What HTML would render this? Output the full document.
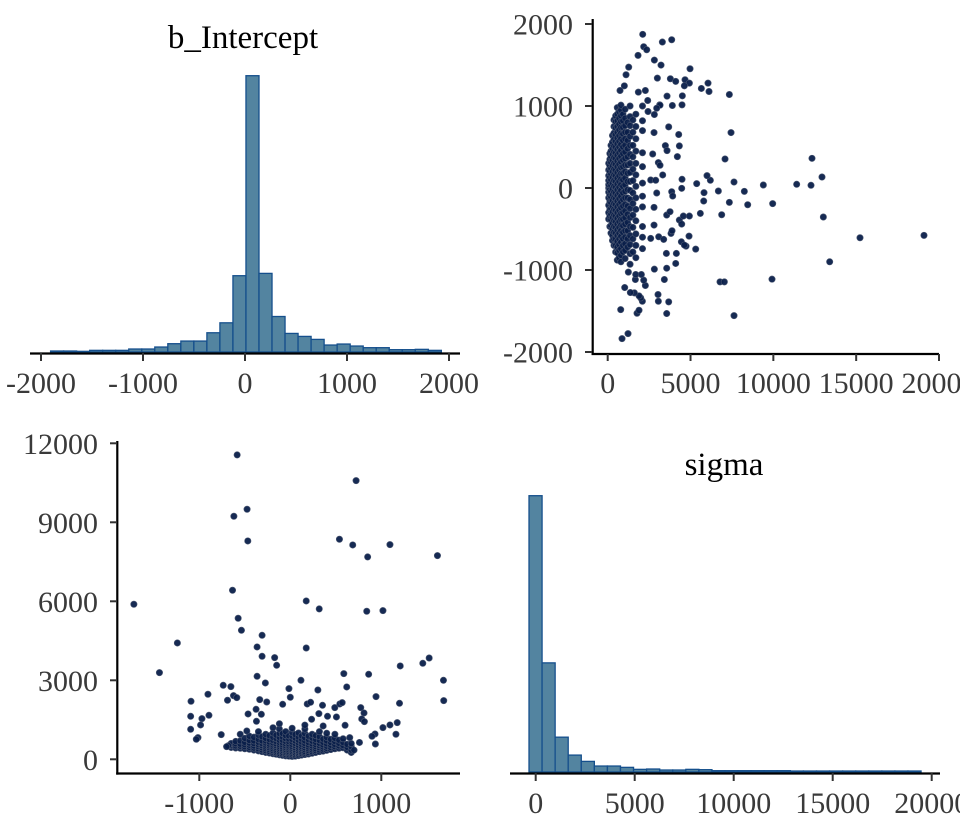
<!DOCTYPE html>
<html>
<head>
<meta charset="utf-8">
<style>
  html,body{margin:0;padding:0;background:#fff;}
  svg{display:block;}
  .tick{font-family:"Liberation Serif","Times New Roman",serif;font-size:30px;fill:#3a3a3a;}
  .title{font-family:"Liberation Serif","Times New Roman",serif;font-size:33px;fill:#000;}
</style>
</head>
<body>
<svg id="chart" width="960" height="840" viewBox="0 0 960 840">
  <g id="tl"></g>
  <g id="tr"></g>
  <g id="bl"></g>
  <g id="br"></g>
</svg>
<script>
// ---------- data ----------
const interceptBinStart = -1906;
const interceptBinWidth = 127.7;
const interceptCounts = [3,3,2,5,5,5,9,9,15,25,33,33,58,88,230,833,237,107,56,47,38,21,24,18,13,13,7,7,8,5];
const interceptTicks = [-2000,-1000,0,1000,2000];

const sigmaBinStart = -338;
const sigmaBinWidth = 660;
const sigmaCounts = [833,329,105,51,32,18,18,14,8,9,6,6,8,7,4,4,4,4,4,4,3,3,3,3,3,3,3,3,3,3];
const sigmaTicks = [0,5000,10000,15000,20000];

const trYTicks = [-2000,-1000,0,1000,2000];
const blXTicks = [-1000,0,1000];
const blYTicks = [0,3000,6000,9000,12000];

// top-right scatter: [sigma, b_Intercept]
const trOutliers = [[2113,1874],[2173,1723],[2354,1686],[3863,1808],[3300,1780],[1831,1617],[2817,1560],[3219,1499],[4970,1454],[1268,1474],[1107,1381],[2998,1340],[3783,1332],[4105,1300],[4668,1320],[4930,1279],[6056,1279],[6116,1177],[5654,1214],[4628,1246],[1006,1246],[744,1189],[1851,1169],[2274,1189],[7344,1140],[3582,1120],[4507,1124],[3903,1006],[4487,1014],[3139,1014],[7445,676],[4286,652],[3682,745],[7083,354],[12333,362],[12937,134],[11408,45],[12273,33],[9396,37],[8249,-41],[8451,-204],[9959,-191],[7625,73],[6680,-37],[6197,94],[5996,151],[5372,53],[5815,-57],[5795,-159],[7344,-175],[5593,-310],[6881,-326],[13018,-354],[15231,-607],[19094,-578],[13400,-900],[9919,-1112],[6780,-1145],[7042,-1145],[7626,-1556],[5312,-745],[4910,-587],[4728,-709],[4145,-798],[4105,-920],[3561,-978],[3420,-1116],[2817,-990],[3038,-1299],[3058,-1381],[3682,-1389],[3561,-1531],[2093,-1381],[1992,-1340],[1891,-1316],[1610,-1279],[1368,-1275],[1026,-1214],[785,-1483],[1227,-1776],[865,-1837],[1771,-1527],[1891,-1491],[2274,-1189],[2173,-1124],[1670,-1116],[1690,-1055],[2032,-1055],[1247,-1026],[3542,-798],[3823,-554],[3883,-521],[4326,-391],[4568,-342],[4930,-342],[4467,-440],[4447,-656],[4628,-696],[3561,-330],[3762,-289],[3863,-45],[3923,-98],[4467,-4],[4487,106],[4205,383],[4326,513],[3481,517],[3582,456],[2716,415],[3058,310],[3159,277],[3320,159],[2596,98],[2898,94],[2958,-61],[2797,-236],[2797,-452],[2596,-615],[3078,-595],[3380,-627],[2797,676],[2817,896],[3159,1010],[2435,933],[2958,973],[2415,1067]];
const trCore = [
  [60,[-380,-300,-210,-120,-50,0,40,90,150,220,300]],
  [130,[-470,-340,-260,-170,-90,-20,60,130,200,270,350,420]],
  [200,[-550,-460,-390,-320,-250,-180,-110,-40,30,100,170,240,310,380,450,520]],
  [290,[-640,-580,-500,-430,-360,-290,-220,-150,-80,-10,60,130,200,270,340,410,480,560,640]],
  [380,[-700,-620,-540,-470,-400,-330,-260,-190,-120,-50,20,90,160,230,300,370,440,510,590,670,750,830]],
  [480,[-780,-700,-620,-550,-480,-410,-340,-270,-200,-130,-60,10,80,150,220,290,360,430,500,570,650,730,810,880]],
  [580,[-880,-790,-720,-650,-580,-510,-440,-370,-300,-230,-160,-90,-20,50,120,190,260,330,400,470,540,610,680,750,820,900,980]],
  [690,[-850,-760,-690,-620,-550,-480,-410,-340,-270,-200,-130,-60,10,80,150,220,290,360,430,500,570,640,710,780,850,930]],
  [800,[-900,-820,-740,-660,-590,-520,-450,-380,-310,-240,-170,-100,-30,40,110,180,250,320,390,460,530,600,670,740,810,880,950,1010]],
  [920,[-780,-700,-620,-540,-460,-380,-300,-220,-140,-60,20,100,180,260,340,420,500,580,660,740,820,900]],
  [1050,[-860,-760,-680,-600,-520,-440,-360,-280,-200,-120,-40,40,120,200,280,360,440,520,600,680,760,850,960]],
  [1200,[-720,-620,-520,-420,-320,-220,-120,-20,80,180,280,380,480,580,680,800]],
  [1350,[-930,-800,-690,-580,-470,-360,-250,-140,-30,80,190,300,410,520,630,760,870,1000]],
  [1520,[-780,-620,-480,-330,-190,-60,90,230,380,520,680,830]],
  [1700,[-850,-700,-560,-400,-260,-120,20,160,300,450,600,750,900]],
  [2100,[-740,-600,-470,-230,-100,60,260,430,700,820,1000]]
];

// bottom-left scatter: [b_Intercept, sigma]
const blOutliers = [[-584,11559],[723,10584],[-475,9495],[-620,9229],[-467,8292],[540,8356],[686,8140],[1095,8153],[850,7685],[1617,7735],[-1719,5887],[-635,6419],[175,6013],[318,5710],[840,5621],[1018,5646],[-573,5355],[-537,4899],[-1241,4418],[-310,4709],[-365,4266],[175,4228],[-310,3911],[-172,3861],[-150,3570],[-1438,3291],[1208,3545],[1456,3646],[1526,3848],[1683,3000],[1686,2228],[861,3228],[588,3253],[620,2747],[942,2380],[1200,2127],[117,3000],[303,2633],[-15,2684],[0,2355],[-365,3152],[-274,2899],[-737,2810],[-653,2760],[-905,2469],[-1091,2203],[-690,2241],[-624,2418],[-588,2342],[-336,2266],[-259,2177],[-84,2089],[186,2102],[223,2165],[354,2051],[489,1962],[544,2102],[570,2152],[774,1962],[810,1760],[785,1532],[814,1431],[-1095,1633],[-971,1545],[-894,1671],[-986,1304],[-1095,1139],[-759,937],[-1015,823],[-1033,760],[-464,1722],[-376,1899],[-318,1709],[-478,1076],[-372,1443],[234,1519],[314,1735],[409,1633],[507,1608],[361,1266],[602,1291],[1018,1203],[1095,1304],[1175,1393],[1161,950],[931,962],[898,874],[935,582],[653,823],[-680,520],[-700,480],[760,640],[700,350]];
const blCore = [
  [-650,[450,520,600]],
  [-600,[430,510,590,680]],
  [-550,[420,500,580,700,950]],
  [-500,[400,480,560,650,800]],
  [-450,[380,460,540,620,720,880]],
  [-400,[350,430,510,600,700,840]],
  [-350,[320,400,480,560,650,760,920,1050]],
  [-310,[290,360,440,520,600,700,860]],
  [-270,[260,330,400,470,540,620,700,800,950]],
  [-230,[240,300,370,440,510,580,660,760,900]],
  [-190,[210,270,330,400,470,540,620,720,840,1000,1200]],
  [-155,[190,250,310,380,450,520,590,680,790,920]],
  [-120,[170,230,290,350,420,490,560,640,730,840,980,1150,1350]],
  [-85,[150,210,270,340,400,470,550,630,730,850,980]],
  [-50,[130,190,250,310,370,440,510,590,680,780,900,1050]],
  [-15,[120,180,240,300,360,430,500,580,670,770,890]],
  [20,[110,170,230,290,350,420,490,570,660,760,880,1020,1180]],
  [55,[120,180,240,310,370,440,520,600,700,810,940]],
  [90,[140,200,260,320,390,460,540,630,730,850,1000]],
  [125,[160,220,280,350,420,490,570,660,770,890]],
  [160,[180,240,300,370,440,520,600,700,820,980,1150,1300]],
  [200,[200,260,330,400,470,550,640,750,880]],
  [240,[230,290,360,430,510,590,690,810,950]],
  [280,[260,330,400,480,560,650,760,900]],
  [320,[290,360,440,520,610,720,860,1050]],
  [360,[310,390,470,550,650,770]],
  [400,[340,420,500,590,700,830,990]],
  [445,[370,450,540,640,760]],
  [490,[400,480,570,680,800,950]],
  [535,[420,510,610,730]],
  [580,[440,530,640,780]],
  [625,[350,460,570]],
  [670,[260,350,480,600]]
];

// ---------- helpers ----------
const NS = "http://www.w3.org/2000/svg";
function mk(tag, attrs, parent){
  const e = document.createElementNS(NS, tag);
  for (const k in attrs) e.setAttribute(k, attrs[k]);
  parent.appendChild(e);
  return e;
}
function lin(d0,d1,r0,r1){ return v => r0 + (v-d0)*(r1-r0)/(d1-d0); }
const SERIF = '"Liberation Serif", "Times New Roman", serif';

// ---------- top-left histogram ----------
(function(){
  const g = document.getElementById('tl');
  const x = lin(0,2000,245,449);
  const y = lin(0,833,352,75.7);
  interceptCounts.forEach((c,i)=>{
    const x0 = x(interceptBinStart + i*interceptBinWidth);
    const x1 = x(interceptBinStart + (i+1)*interceptBinWidth);
    const r = mk('rect',{x:x0,y:y(c),width:x1-x0,height:352-y(c),fill:'#5384a0',stroke:'#154f8c','stroke-width':1.3},g);
    
    
  });
  const ax = mk('line',{x1:30,x2:460,y1:353.5,y2:353.5,stroke:'#000','stroke-width':2.2},g);
  
  
  interceptTicks.forEach(t=>{
    mk('line',{x1:x(t),x2:x(t),y1:353,y2:361,stroke:'#333','stroke-width':2},g);
    const tx = mk('text',{x:x(t),y:393,'text-anchor':'middle',class:'tick','font-family':SERIF,'font-size':30},g);
    tx.textContent = t;
    
    
  });
  const ti = mk('text',{x:243,y:48,'text-anchor':'middle',class:'title','font-family':SERIF,'font-size':33},g);
  ti.textContent = 'b_Intercept';
  
  
})();

// ---------- bottom-right histogram ----------
(function(){
  const g = document.getElementById('br');
  const x = lin(0,20000,535.7,931.7);
  const y = lin(0,833,772,495.7);
  sigmaCounts.forEach((c,i)=>{
    const x0 = x(sigmaBinStart + i*sigmaBinWidth);
    const x1 = x(sigmaBinStart + (i+1)*sigmaBinWidth);
    const r = mk('rect',{x:x0,y:y(c),width:x1-x0,height:772-y(c),fill:'#5384a0',stroke:'#154f8c','stroke-width':1.3},g);
    
    
  });
  const ax = mk('line',{x1:510,x2:940,y1:773.5,y2:773.5,stroke:'#000','stroke-width':2.2},g);
  
  
  sigmaTicks.forEach(t=>{
    mk('line',{x1:x(t),x2:x(t),y1:773,y2:781,stroke:'#333','stroke-width':2},g);
    const tx = mk('text',{x:x(t),y:813,'text-anchor':'middle',class:'tick','font-family':SERIF,'font-size':30},g);
    tx.textContent = t;
    
    
  });
  const ti = mk('text',{x:724,y:475,'text-anchor':'middle',class:'title','font-family':SERIF,'font-size':33},g);
  ti.textContent = 'sigma';
  
  
})();

function drawPoint(g, px, py){
  const c = mk('circle',{cx:px,cy:py,r:3.2,fill:'#0a1f4a',stroke:'#4a5670','stroke-width':0.6,'fill-opacity':0.95},g);
  
  
}

// ---------- top-right scatter ----------
(function(){
  const g = document.getElementById('tr');
  const x = lin(0,20000,607.7,939);
  const y = lin(0,2000,188,24);
  trCore.forEach(col=>{ col[1].forEach(b=>drawPoint(g, x(col[0]), y(b))); });
  trOutliers.forEach(p=>drawPoint(g, x(p[0]), y(p[1])));
  const ya = mk('line',{x1:592.7,x2:592.7,y1:19,y2:355,stroke:'#000','stroke-width':2.2},g);
  
  
  const xa = mk('line',{x1:591.6,x2:939,y1:354,y2:354,stroke:'#000','stroke-width':2.2},g);
  
  
  trYTicks.forEach(t=>{
    mk('line',{x1:585,x2:592,y1:y(t),y2:y(t),stroke:'#333','stroke-width':2},g);
    const tx = mk('text',{x:573,y:y(t)+10.5,'text-anchor':'end',class:'tick','font-family':SERIF,'font-size':30},g);
    tx.textContent = t;
    
    
  });
  sigmaTicks.forEach(t=>{
    mk('line',{x1:x(t),x2:x(t),y1:354,y2:361,stroke:'#333','stroke-width':2},g);
    const tx = mk('text',{x:x(t),y:393,'text-anchor':'middle',class:'tick','font-family':SERIF,'font-size':30},g);
    tx.textContent = t;
    
    
  });
})();

// ---------- bottom-left scatter ----------
(function(){
  const g = document.getElementById('bl');
  const x = lin(0,1000,290.3,381.3);
  const y = lin(0,12000,759.3,443.3);
  blCore.forEach(col=>{ col[1].forEach(s=>drawPoint(g, x(col[0]), y(s))); });
  blOutliers.forEach(p=>drawPoint(g, x(p[0]), y(p[1])));
  const ya = mk('line',{x1:117.3,x2:117.3,y1:441,y2:774.6,stroke:'#000','stroke-width':2.2},g);
  
  
  const xa = mk('line',{x1:116.2,x2:460,y1:773.5,y2:773.5,stroke:'#000','stroke-width':2.2},g);
  
  
  blYTicks.forEach(t=>{
    mk('line',{x1:110,x2:117,y1:y(t),y2:y(t),stroke:'#333','stroke-width':2},g);
    const tx = mk('text',{x:98,y:y(t)+10.5,'text-anchor':'end',class:'tick','font-family':SERIF,'font-size':30},g);
    tx.textContent = t;
    
    
  });
  blXTicks.forEach(t=>{
    mk('line',{x1:x(t),x2:x(t),y1:773,y2:781,stroke:'#333','stroke-width':2},g);
    const tx = mk('text',{x:x(t),y:813,'text-anchor':'middle',class:'tick','font-family':SERIF,'font-size':30},g);
    tx.textContent = t;
    
    
  });
})();
</script>
</body>
</html>
